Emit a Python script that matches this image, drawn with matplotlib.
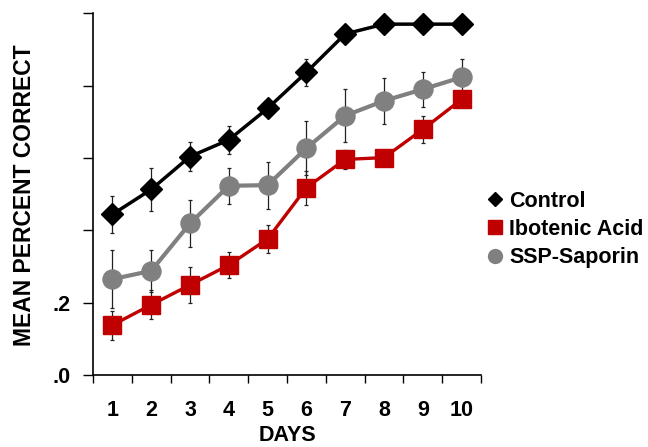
import matplotlib
matplotlib.use("Agg")
import matplotlib.pyplot as plt
from matplotlib.lines import Line2D
import numpy as np

days = [1, 2, 3, 4, 5, 6, 7, 8, 9, 10]
day_labels = ["1", "2", "3", "4", "5", "6", "7", "8", "9", "10"]

control = [0.444, 0.513, 0.604, 0.650, 0.737, 0.837, 0.943, 0.970, 0.970, 0.970]
control_err = [0.052, 0.060, 0.041, 0.039, 0.020, 0.037, 0.010, 0.0, 0.0, 0.0]

ibotenic = [0.138, 0.194, 0.249, 0.304, 0.376, 0.518, 0.596, 0.601, 0.679, 0.762]
ibotenic_err = [0.040, 0.040, 0.049, 0.036, 0.039, 0.047, 0.026, 0.015, 0.038, 0.020]

saporin = [0.265, 0.288, 0.419, 0.523, 0.525, 0.627, 0.717, 0.758, 0.790, 0.823]
saporin_err = [0.081, 0.058, 0.064, 0.049, 0.065, 0.075, 0.074, 0.063, 0.048, 0.050]

y_ticks = [0.0, 0.2, 0.4, 0.6, 0.8, 1.0]
y_tick_labels = [".0", ".2", "", "", "", ""]

series_names = ["Control", "Ibotenic Acid", "SSP-Saporin"]

plt.rcParams['font.family'] = ['Liberation Sans', 'DejaVu Sans']
plt.rcParams['font.weight'] = 'bold'

fig = plt.figure(figsize=(6.48, 4.47), dpi=100)
ax = fig.add_axes([93/648, 1-375/447, (481-93)/648, (375-13.3)/447])

ecol = '#222222'
for vals, errs in [(saporin, saporin_err), (ibotenic, ibotenic_err), (control, control_err)]:
    ax.errorbar(days, vals, yerr=errs, fmt='none', ecolor=ecol, elinewidth=0.9,
                capsize=1.5, capthick=0.9, zorder=1)

ax.plot(days, saporin, color='#808080', lw=3.0, marker='o', ms=13.7,
        mec='#808080', zorder=2)
ax.plot(days, ibotenic, color='#C00000', lw=2.4, marker='s', ms=13.5,
        mec='#C00000', zorder=3)
ax.plot(days, control, color='black', lw=2.5, marker='D', ms=11.2,
        mec='black', zorder=4)

ax.set_xlim(0.5, 10.5)
ax.set_ylim(0, 1.0)

ax.set_xticks(np.arange(0.5, 11.0, 1.0))
ax.set_xticklabels([])
ax.set_xticks(days, minor=True)
ax.set_xticklabels(day_labels, minor=True, fontsize=15.5, fontweight='bold')
ax.tick_params(axis='x', which='major', direction='out', length=6, width=1)
ax.tick_params(axis='x', which='minor', length=0, pad=18)

ax.set_yticks(y_ticks)
ax.set_yticklabels(y_tick_labels, fontsize=15.5, fontweight='bold')
ax.tick_params(axis='y', direction='out', length=7, width=1, pad=9)

ax.spines['top'].set_visible(False)
ax.spines['right'].set_visible(False)
ax.spines['left'].set_linewidth(1.2)
ax.spines['bottom'].set_linewidth(1.2)

ax.set_xlabel("DAYS", fontsize=15.5, fontweight='bold', labelpad=3)
fig.text(25/648, 1-195/447, "MEAN PERCENT CORRECT", rotation=90,
         ha='center', va='center', fontsize=16.5, fontweight='bold')

handles = [
    Line2D([], [], ls='none', marker='D', ms=7.5, color='black'),
    Line2D([], [], ls='none', marker='s', ms=10, color='#C00000'),
    Line2D([], [], ls='none', marker='o', ms=10, color='#808080'),
]
leg = fig.legend(handles, series_names, loc='center left',
                 bbox_to_anchor=(487.7/648, 1-229.5/447), frameon=False,
                 borderaxespad=0, borderpad=0, handlelength=0.7,
                 handletextpad=0.3, labelspacing=0.33,
                 prop={'family': ['Liberation Sans', 'DejaVu Sans'], 'weight': 'bold', 'size': 15.5})

fig.savefig("out.png", dpi=100)
